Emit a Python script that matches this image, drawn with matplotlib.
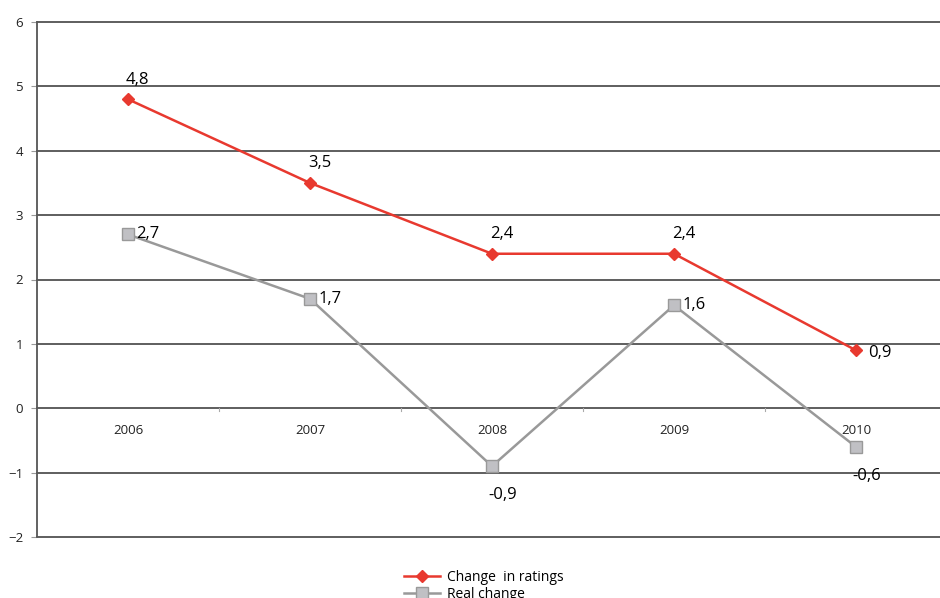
import matplotlib.pyplot as plt
from matplotlib.lines import Line2D

years = ['2006', '2007', '2008', '2009', '2010']
ratings = [4.8, 3.5, 2.4, 2.4, 0.9]
real = [2.7, 1.7, -0.9, 1.6, -0.6]

red = '#e8392f'
grey = '#999999'

plt.rcParams['font.family'] = ['Open Sans', 'DejaVu Sans']

fig = plt.figure(figsize=(9.4, 5.98), dpi=100)
ax = fig.add_axes([37 / 940, 61 / 598, 903 / 940, 515 / 598])

x = list(range(len(years)))
ax.set_xlim(-0.5, 4.5 - 7 / 182)
ax.set_ylim(-2, 6)
ax.set_yticks(range(-2, 7))
ax.yaxis.grid(True, color='#333333', linewidth=1.1, clip_on=False)
ax.set_axisbelow(True)
for s in ['top', 'right', 'bottom']:
    ax.spines[s].set_visible(False)
ax.spines['left'].set_color('#555555')
ax.spines['left'].set_linewidth(1.3)
ax.tick_params(axis='y', length=4, color='#999999', labelsize=9.5, pad=6, labelcolor='#222222')

# category axis at zero, with separators between categories
ax.set_xticks([])
for i in range(1, len(years)):
    ax.plot([i - 0.5, i - 0.5], [0, -0.04], color='#aaaaaa', linewidth=0.8)
for i, yr in enumerate(years):
    ax.text(i, -0.34, yr, ha='center', va='center', fontsize=9.5, color='#222222')

ax.plot(x, ratings, color=red, linewidth=1.8, marker='D', markersize=6,
        markerfacecolor=red, markeredgecolor=red, zorder=4)
ax.plot(x, real, color=grey, linewidth=1.8, marker='s', markersize=8,
        markerfacecolor='#c0c0c4', markeredgecolor='#999999', zorder=3)

def fmt(v):
    return ('%.1f' % v).replace('.', ',')

for i, v in enumerate(ratings):
    if i == len(ratings) - 1:
        ax.annotate(fmt(v), (i, v), xytext=(9, -2), textcoords='offset points',
                    ha='left', va='center', fontsize=12)
    else:
        ax.annotate(fmt(v), (i, v), xytext=(7, 14), textcoords='offset points',
                    ha='center', va='center', fontsize=12)

for i, v in enumerate(real):
    if v < 0:
        ax.annotate(fmt(v), (i, v), xytext=(8, -21), textcoords='offset points',
                    ha='center', va='center', fontsize=12)
    else:
        ax.annotate(fmt(v), (i, v), xytext=(6, 0), textcoords='offset points',
                    ha='left', va='center', fontsize=12)

handles = [
    Line2D([], [], color=red, linewidth=1.8, marker='D', markersize=6, markerfacecolor=red),
    Line2D([], [], color=grey, linewidth=1.8, marker='s', markersize=8,
           markerfacecolor='#c0c0c4', markeredgecolor='#999999'),
]
fig.legend(handles, ['Change  in ratings', 'Real change'], loc='upper left',
           bbox_to_anchor=(397 / 940, 1 - 563 / 598), frameon=False, fontsize=10,
           handlelength=2.6, labelspacing=0.15, borderpad=0, handletextpad=0.5)

fig.savefig('out.png', dpi=100)
